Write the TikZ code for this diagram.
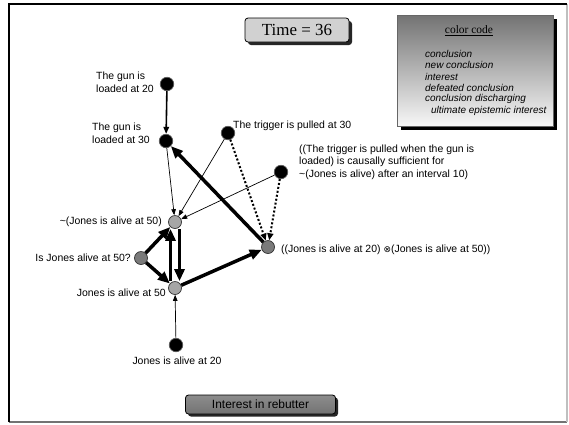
\documentclass[tikz,border=0pt]{standalone}
\usepackage{fontspec}
\setmainfont{Liberation Serif}
\newfontfamily\arialf{Liberation Sans}
\newfontfamily\dejavuf{DejaVu Sans}
\usetikzlibrary{arrows.meta,shadows}
\begin{document}
\begin{tikzpicture}[x=1bp,y=-1bp,
  lbl/.style={font=\arialf\fontsize{10.5}{13.5}\selectfont, inner sep=0pt},
  bnode/.style={circle, fill=black, draw=black!65, line width=0.7bp, minimum size=13.5bp, inner sep=0pt},
  lgnode/.style={circle, fill=black!35, draw=black!80, line width=0.7bp, minimum size=13bp, inner sep=0pt},
  dgnode/.style={circle, fill=black!52, draw=black!80, line width=0.7bp, minimum size=13bp, inner sep=0pt},
  thinarr/.style={-{Triangle[length=6bp,width=4.5bp]}, line width=0.7bp},
  medarr/.style={-{Triangle[length=7bp,width=5.5bp]}, line width=1.6bp},
  thickarr/.style={-{Triangle[length=12bp,width=10bp]}, line width=3.5bp},
  dotarr/.style={-{Triangle[length=7bp,width=6bp]}, line width=2bp, dash pattern=on 2bp off 2bp},
  lgd/.style={font=\arialf\itshape\fontsize{10}{11}\selectfont, inner sep=0pt, anchor=west}
]
\useasboundingbox (0,0) rectangle (569,424);
\fill[white] (0,0) rectangle (569,424);
% frame
\draw[line width=1.5bp, black!55] (9,422) -- (567,422);
\draw[line width=1.2bp, black!25] (567,422) -- (567,4);
\draw[line width=2bp, black] (9,422) -- (9,4) -- (567,4);

% time box
\node (time) [draw, line width=0.8bp, rounded corners=3bp, minimum width=104bp, minimum height=24bp,
  top color=black!18, middle color=white, bottom color=black!18,
  drop shadow={shadow xshift=3bp, shadow yshift=-3bp, fill=black!85, opacity=1},
  font=\fontsize{17}{20}\selectfont] at (297,30) {Time = 36};

% legend
\node (legend) [draw=black!60, line width=0.6bp, minimum width=156bp, minimum height=111bp,
  top color=black!55, bottom color=black!3,
  drop shadow={shadow xshift=4bp, shadow yshift=-4bp, fill=black, opacity=1}] at (475,70.5) {};
\node (lgtitle) [font=\fontsize{11.5}{13}\selectfont, inner sep=0pt] at (469,31) {\underline{color code}};
\node (lg1) [lgd] at (425,54) {conclusion};
\node (lg2) [lgd] at (425,65) {new conclusion};
\node (lg3) [lgd] at (425,76.5) {interest};
\node (lg4) [lgd] at (425,88) {defeated conclusion};
\node (lg5) [lgd] at (425,99) {conclusion discharging};
\node (lg6) [lgd] at (431,111) {ultimate epistemic interest};

% bottom box
\node (rebut) [draw, line width=0.8bp, rounded corners=3bp, minimum width=150bp, minimum height=19bp,
  top color=black!45, middle color=black!15, bottom color=black!55,
  drop shadow={shadow xshift=2.5bp, shadow yshift=-2.5bp, fill=black!85, opacity=1},
  font=\arialf\fontsize{12}{14}\selectfont] at (260.5,404.5) {Interest in rebutter};

% nodes
\node (g20) [bnode] at (167,84) {};
\node (g30) [bnode] at (166,141) {};
\node (trig) [bnode] at (228,133) {};
\node (suff) [bnode] at (281,172) {};
\node (nj) [lgnode] at (175,222) {};
\node (isj) [dgnode] at (141,258) {};
\node (j50) [lgnode] at (175,288) {};
\node (conj) [dgnode] at (268,247) {};
\node (j20) [bnode] at (176,345) {};

% labels
\node (lg20) [lbl, align=left, anchor=east] at (154,82) {The gun is\\loaded at 20};
\node (lg30) [lbl, align=left, anchor=east] at (150,133) {The gun is\\loaded at 30};
\node (ltrig) [lbl, anchor=base west] at (233,128) {The trigger is pulled at 30};
\node (lsuff) [lbl, align=left, anchor=west, font=\arialf\fontsize{10.5}{12.5}\selectfont] at (299,162)
  {((The trigger is pulled when the gun is\\loaded) is causally sufficient for\\\textasciitilde(Jones is alive) after an interval 10)};
\node (lnj) [lbl, anchor=east] at (162,222) {\textasciitilde(Jones is alive at 50)};
\node (lisj) [lbl, anchor=east] at (131,258) {Is Jones alive at 50?};
\node (lj50) [lbl, anchor=east] at (166,293) {Jones is alive at 50};
\node (lj20) [lbl, anchor=north] at (177,357) {Jones is alive at 20};
\node (lconj) [lbl, anchor=west] at (281,250) {((Jones is alive at 20) {\dejavuf\fontsize{9}{10}\selectfont ⊗}(Jones is alive at 50))};

% edges
\draw[medarr] (g20) -- (g30);
\draw[thinarr] (g30) -- (nj);
\draw[thinarr] (trig) -- (nj);
\draw[thinarr] (suff) -- (nj);
\draw[dotarr] (trig) -- (conj);
\draw[dotarr] (suff) -- (conj);
\draw[thickarr] (conj) -- (g30);
\draw[thickarr] (isj) -- (nj);
\draw[thickarr] (isj) -- (j50);
\draw[thickarr] ([xshift=4.5bp]nj.south) -- ([xshift=4.5bp]j50.north);
\draw[thickarr] ([xshift=-4.5bp]j50.north) -- ([xshift=-4.5bp]nj.south);
\draw[thickarr] (j50) -- (conj);
\draw[thinarr] (j20) -- (j50);
\end{tikzpicture}
\end{document}
